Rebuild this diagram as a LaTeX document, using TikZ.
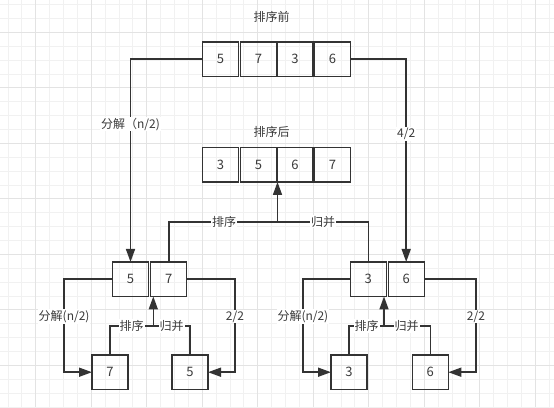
\documentclass[tikz,border=0pt]{standalone}
\usepackage{fontspec}
\setmainfont{Noto Sans CJK SC}
\usetikzlibrary{arrows.meta}
\definecolor{ln}{HTML}{333333}
\definecolor{tx}{HTML}{3A3A3A}
\definecolor{gminor}{HTML}{F1F1F1}
\definecolor{gmajor}{HTML}{E3E3E3}
\begin{document}
\begin{tikzpicture}[x=1pt,y=-1pt,
  box/.style={draw=ln, line width=1.4pt, minimum width=36pt, minimum height=34.5pt, inner sep=0pt, outer sep=0pt, font=\fontsize{13}{15}\selectfont, text=tx},
  conn/.style={draw=ln, line width=1.6pt},
  arr/.style={conn, -{Triangle[length=13pt,width=9pt]}},
  lbl/.style={fill=white, inner sep=1pt, font=\fontsize{12}{14}\selectfont, text=tx},
  title/.style={inner sep=1pt, font=\fontsize{12}{14}\selectfont, text=tx}]
\useasboundingbox (0,0) rectangle (554,407);
\fill[white] (0,0) rectangle (554,407);
% grid
\foreach \i in {0,...,39} \draw[gminor, line width=0.8pt] ({7.95+13.875*\i},0) -- ++(0,407);
\foreach \i in {0,...,29} \draw[gminor, line width=0.8pt] (0,{4.55+13.875*\i}) -- ++(554,0);
\foreach \i in {0,...,9} \draw[gmajor, line width=0.8pt] ({35.7+55.5*\i},0) -- ++(0,407);
\foreach \i in {0,...,7} \draw[gmajor, line width=0.8pt] (0,{32.3+55.5*\i}) -- ++(554,0);

% titles
\node[title] (h1) at (271.7,17) {排序前};
\node[title] (h2) at (271.7,131.7) {排序后};

% top row
\node[box] (t1) at (220.5,59.2) {5};
\node[box] (t2) at (258.5,59.2) {7};
\node[box] (t3) at (295,59.2) {3};
\node[box] (t4) at (332.5,59.2) {6};

% middle row
\node[box] (m1) at (220.5,164.7) {3};
\node[box] (m2) at (258.5,164.7) {5};
\node[box] (m3) at (295,164.7) {6};
\node[box] (m4) at (332.5,164.7) {7};

% lower groups
\node[box] (l5) at (130.5,279.2) {5};
\node[box] (l7) at (168.7,279.2) {7};
\node[box] (r3) at (368.3,279.2) {3};
\node[box] (r6) at (406.2,279.2) {6};

\node[box] (s7) at (110,372.2) {7};
\node[box] (s5) at (190,372.2) {5};
\node[box] (s3) at (349,372.2) {3};
\node[box] (s6) at (430.3,372.2) {6};

% top split
\draw[arr] (t1.west) -| (l5.north) node[lbl, pos=0.66] (d1) {分解（n/2)};
\draw[arr] (t4.east) -| (r6.north) node[lbl, pos=0.684] (d2) {4/2};

% middle merge
\coordinate (j0) at (277.5,221.7);
\draw[conn] (l7.north) |- (j0) -| (r3.north);
\draw[arr] (j0) -- (j0 |- m2.south);
\node[lbl] (ml1) at (224,221.7) {排序};
\node[lbl] (ml2) at (323,221.7) {归并};

% lower-left
\draw[arr] (l5.west) -- ++(-48.4,0) |- (s7.west) node[lbl, pos=0.2] (dl1) {分解(n/2)};
\draw[arr] (l7.east) -- ++(48.3,0) |- (s5.east) node[lbl, pos=0.2] (dl2) {2/2};
\coordinate (jl) at (153.3,326);
\draw[conn] (s7.north) |- (jl) -| (s5.north);
\draw[arr] (jl) -- (jl |- l5.south);
\node[lbl] (ll1) at (131.7,326) {排序};
\node[lbl] (ll2) at (171.7,326) {归并};

% lower-right
\draw[arr] (r3.west) -- ++(-47.4,0) |- (s3.west) node[lbl, pos=0.2] (dr1) {分解(n/2)};
\draw[arr] (r6.east) -- ++(51.7,0) |- (s6.east) node[lbl, pos=0.2] (dr2) {2/2};
\coordinate (jr) at (384,326);
\draw[conn] (s3.north) |- (jr) -| (s6.north);
\draw[arr] (jr) -- (jr |- r3.south);
\node[lbl] (rl1) at (366.7,326) {排序};
\node[lbl] (rl2) at (406.7,326) {归并};
\end{tikzpicture}
\end{document}
